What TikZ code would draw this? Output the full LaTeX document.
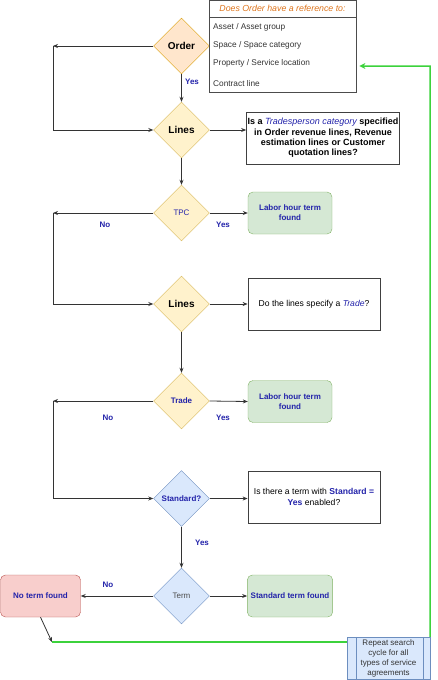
\documentclass[tikz,border=0pt]{standalone}
\usepackage{fontspec}
\setmainfont{Liberation Sans}
\usetikzlibrary{shapes.geometric,arrows.meta}
\definecolor{txtblue}{RGB}{35,35,170}
\definecolor{txtorange}{RGB}{221,116,28}
\definecolor{loopgreen}{RGB}{60,210,60}
\tikzstyle{decision}=[diamond,aspect=1,minimum size=56pt,inner sep=0pt,draw,font=\fontsize{8}{10}\selectfont]
\tikzstyle{decorange}=[decision,fill={rgb,255:red,255;green,230;blue,204},draw={rgb,255:red,215;green,155;blue,0}]
\tikzstyle{decyellow}=[decision,fill={rgb,255:red,255;green,242;blue,204},draw={rgb,255:red,214;green,182;blue,86}]
\tikzstyle{decblue}=[decision,fill={rgb,255:red,218;green,232;blue,252},draw={rgb,255:red,108;green,142;blue,191}]
\tikzstyle{question}=[rectangle,draw=black!75,line width=0.8pt,align=center,inner sep=1pt,font=\fontsize{8.6}{10.5}\selectfont]
\tikzstyle{found}=[rectangle,rounded corners=5pt,draw={rgb,255:red,130;green,179;blue,102},fill={rgb,255:red,213;green,232;blue,212},minimum width=84pt,minimum height=42pt,align=center,text=txtblue,font=\fontsize{8}{10}\selectfont\bfseries]
\tikzstyle{notfound}=[found,draw={rgb,255:red,184;green,84;blue,80},fill={rgb,255:red,248;green,206;blue,204}]
\tikzstyle{item}=[anchor=west,inner sep=0pt,text=black!80,font=\fontsize{8.3}{10}\selectfont]
\tikzstyle{lbl}=[inner sep=0pt,text=txtblue,font=\fontsize{8}{10}\selectfont\bfseries]
\tikzstyle{flow}=[draw=black!80,line width=0.8pt,-{Stealth[length=5pt,width=4pt]}]
\tikzstyle{loopline}=[draw=loopgreen,line width=1.5pt]

\begin{document}
\begin{tikzpicture}[x=1pt,y=-1pt]
    \useasboundingbox (0,0) rectangle (438,680);
    % decisions
    \node[decorange] (order) at (181.5,46) {\fontsize{10}{12}\selectfont\bfseries Order};
    \node[decyellow] (linesA) at (181.5,130) {\fontsize{10}{12}\selectfont\bfseries Lines};
    \node[decyellow,text=txtblue] (tpc) at (181.5,213) {TPC};
    \node[decyellow] (linesB) at (181.5,304) {\fontsize{10}{12}\selectfont\bfseries Lines};
    \node[decyellow,text=txtblue,font=\fontsize{8}{10}\selectfont\bfseries] (trade) at (181.5,401) {Trade};
    \node[decblue,text=txtblue,font=\fontsize{8}{10}\selectfont\bfseries] (standard) at (181.5,498.5) {Standard?};
    \node[decblue,text=black!70] (term) at (181.5,596) {Term};

    % reference list
    \node[rectangle,draw=black!70,line width=0.8pt,minimum width=147pt,minimum height=17pt,inner sep=0pt,text=txtorange,font=\fontsize{8.8}{10}\selectfont\itshape] (refhead) at (282.5,8.5) {Does Order have a reference to:};
    \node[rectangle,draw=black!70,line width=0.8pt,minimum width=147pt,minimum height=75pt,inner sep=0pt] (refbody) at (282.5,54.5) {};
    \node[item] (asset) at (213,27) {Asset / Asset group};
    \node[item] (space) at (213,45) {Space / Space category};
    \node[item] (property) at (213,63) {Property / Service location};
    \node[item] (contract) at (213,84) {Contract line};

    % questions
    \node[question,minimum width=150pt,minimum height=52pt,font=\fontsize{9}{10.3}\selectfont\bfseries] (qtpc) at (323,138)
        {Is a \textcolor{txtblue}{\mdseries\itshape Tradesperson category} specified\\in Order revenue lines, Revenue\\estimation lines or Customer\\quotation lines?};
    \node[question,minimum width=132pt,minimum height=52pt] (qtrade) at (314,304)
        {Do the lines specify a \textcolor{txtblue}{\itshape Trade}?};
    \node[question,minimum width=132pt,minimum height=52pt] (qstd) at (314,497)
        {Is there a term with \textcolor{txtblue}{\bfseries Standard =}\\\textcolor{txtblue}{\bfseries Yes} enabled?};

    % results
    \node[found] (laborA) at (290,213) {Labor hour term\\found};
    \node[found] (laborB) at (290,401.5) {Labor hour term\\found};
    \node[found] (stdfound) at (290,596) {Standard term found};
    \node[notfound,minimum width=80pt] (noterm) at (40.5,596) {No term found};
    \node[rectangle,draw={rgb,255:red,108;green,142;blue,191},fill={rgb,255:red,218;green,232;blue,252},minimum width=83pt,minimum height=42pt,inner sep=0pt,align=center,text=black!80,font=\fontsize{8}{10}\selectfont] (repeat) at (388.5,658)
        {Repeat search\\cycle for all\\types of service\\agreements};
    \draw[draw={rgb,255:red,108;green,142;blue,191}] ([xshift=9pt]repeat.north west) -- ([xshift=9pt]repeat.south west);
    \draw[draw={rgb,255:red,108;green,142;blue,191}] ([xshift=-7pt]repeat.north east) -- ([xshift=-7pt]repeat.south east);

    % corners
    \coordinate (cA) at (53,46);
    \coordinate (cB) at (53,213);
    \coordinate (cC) at (53,401);
    \coordinate (loop) at (52,642);
    \coordinate (up) at (430,66);

    % labels
    \node[lbl] (y1) at (192,82) {Yes};
    \node[lbl] (n2) at (105,225) {No};
    \node[lbl] (y2) at (223,225) {Yes};
    \node[lbl] (n3) at (108,418) {No};
    \node[lbl] (y3) at (223,418) {Yes};
    \node[lbl] (y4) at (202,543) {Yes};
    \node[lbl] (n5) at (108,585) {No};

    % connectors
    \foreach \from/\to in {order.south/linesA.north,linesA.south/tpc.north,tpc.east/laborA.west,
        linesB.south/trade.north,trade.east/laborB.west,standard.south/term.north,term.east/stdfound.west,
        term.west/noterm.east,order.west/cA,tpc.west/cB,trade.west/cC,noterm.south/loop}
    \draw[flow] (\from) -- (\to);
    \foreach \from/\to in {linesA/qtpc,linesB/qtrade,standard/qstd}
    \draw[flow] (\from.east) -- (\from.east -| \to.west);
    \foreach \from/\to in {cA/linesA,cB/linesB,cC/standard}
    \draw[flow] (\from) |- (\to.west);

    % repeat loop
    \draw[loopline] (loop) -- (loop -| repeat.west);
    \draw[loopline,-{Stealth[length=6pt,width=6pt]}] (repeat.north east) -- (up) -- ([xshift=3pt]up -| refbody.east);
\end{tikzpicture}
\end{document}
